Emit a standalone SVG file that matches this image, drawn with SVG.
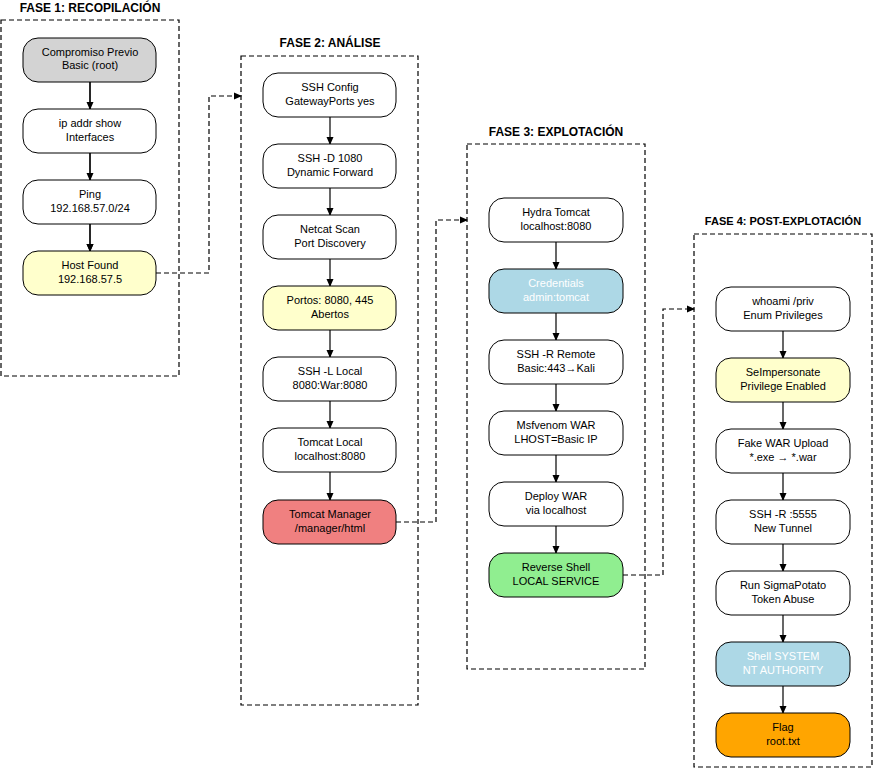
<svg xmlns="http://www.w3.org/2000/svg" width="873" height="768" viewBox="0 0 873 768">
<defs>
<marker id="a" markerWidth="8" markerHeight="8" refX="7" refY="4" orient="auto" markerUnits="userSpaceOnUse"><path d="M0,0.5 L8,4 L0,7.5 Z" fill="#000"/></marker>
<style>
text{font-family:"Liberation Sans",Arial,sans-serif;font-size:11px;text-anchor:middle;fill:#000}
.t{font-weight:bold;font-size:12px}
.c{fill:none;stroke:#000;stroke-width:1.2;stroke-dasharray:5,3}
.n{stroke:#000;stroke-width:1;fill:#fff}
.e{fill:none;stroke:#000;stroke-width:1.2}
.d{fill:none;stroke:#000;stroke-width:1.2;stroke-dasharray:5,3}
.w{fill:#fff}
</style>
</defs>
<rect width="873" height="768" fill="#fff"/>
<g id="clusters">
<rect class="c" x="1" y="20" width="178" height="356"/><text class="t" x="90" y="12">FASE 1: RECOPILACIÓN</text>
<rect class="c" x="241" y="56" width="177" height="649"/><text class="t" x="330" y="47">FASE 2: ANÁLISE</text>
<rect class="c" x="467" y="144" width="178" height="525"/><text class="t" x="556" y="136">FASE 3: EXPLOTACIÓN</text>
<rect class="c" x="694" y="234" width="178" height="533"/><text class="t" x="783" y="225" style="font-size:11px">FASE 4: POST-EXPLOTACIÓN</text>
</g>
<g id="connectors">
<path class="e" d="M90,82V109M90,153V180M90,224V251" marker-end="url(#a)"/>
<path class="e" d="M90,82V109" marker-end="url(#a)"/><path class="e" d="M90,153V180" marker-end="url(#a)"/><path class="e" d="M90,224V251" marker-end="url(#a)"/>
<path class="e" d="M330,117V144" marker-end="url(#a)"/><path class="e" d="M330,188V215" marker-end="url(#a)"/><path class="e" d="M330,259V286" marker-end="url(#a)"/><path class="e" d="M330,330V357" marker-end="url(#a)"/><path class="e" d="M330,401V428" marker-end="url(#a)"/><path class="e" d="M330,472V500" marker-end="url(#a)"/>
<path class="e" d="M556,242V269" marker-end="url(#a)"/><path class="e" d="M556,313V340" marker-end="url(#a)"/><path class="e" d="M556,384V411" marker-end="url(#a)"/><path class="e" d="M556,455V482" marker-end="url(#a)"/><path class="e" d="M556,526V553" marker-end="url(#a)"/>
<path class="e" d="M783,331V358" marker-end="url(#a)"/><path class="e" d="M783,402V429" marker-end="url(#a)"/><path class="e" d="M783,473V500" marker-end="url(#a)"/><path class="e" d="M783,544V571" marker-end="url(#a)"/><path class="e" d="M783,615V642" marker-end="url(#a)"/><path class="e" d="M783,686V713" marker-end="url(#a)"/>
<path class="d" d="M156,273H209V96H241" marker-end="url(#a)"/>
<path class="d" d="M396,522H436V220H467" marker-end="url(#a)"/>
<path class="d" d="M623,575H663V309H694" marker-end="url(#a)"/>
</g>
<g id="n1"><rect class="n" x="23" y="38" width="133" height="44" rx="15" style="fill:#d3d3d3"/><text x="90" y="56">Compromiso Previo</text><text x="90" y="69">Basic (root)</text></g>
<g id="n2"><rect class="n" x="23" y="109" width="133" height="44" rx="15"/><text x="90" y="127">ip addr show</text><text x="90" y="141">Interfaces</text></g>
<g id="n3"><rect class="n" x="23" y="180" width="133" height="44" rx="15"/><text x="90" y="198">Ping</text><text x="90" y="212">192.168.57.0/24</text></g>
<g id="n4"><rect class="n" x="23" y="251" width="133" height="44" rx="15" style="fill:#ffffcc"/><text x="90" y="269">Host Found</text><text x="90" y="283">192.168.57.5</text></g>
<g id="n5"><rect class="n" x="263" y="73" width="133" height="44" rx="15"/><text x="330" y="91">SSH Config</text><text x="330" y="105">GatewayPorts yes</text></g>
<g id="n6"><rect class="n" x="263" y="144" width="133" height="44" rx="15"/><text x="330" y="162">SSH -D 1080</text><text x="330" y="176">Dynamic Forward</text></g>
<g id="n7"><rect class="n" x="263" y="215" width="133" height="44" rx="15"/><text x="330" y="233">Netcat Scan</text><text x="330" y="247">Port Discovery</text></g>
<g id="n8"><rect class="n" x="263" y="286" width="133" height="44" rx="15" style="fill:#ffffcc"/><text x="330" y="304">Portos: 8080, 445</text><text x="330" y="318">Abertos</text></g>
<g id="n9"><rect class="n" x="263" y="357" width="133" height="44" rx="15"/><text x="330" y="375">SSH -L Local</text><text x="330" y="389">8080:War:8080</text></g>
<g id="n10"><rect class="n" x="263" y="428" width="133" height="44" rx="15"/><text x="330" y="446">Tomcat Local</text><text x="330" y="460">localhost:8080</text></g>
<g id="n11"><rect class="n" x="263" y="500" width="133" height="44" rx="15" style="fill:#f08080"/><text x="330" y="518">Tomcat Manager</text><text x="330" y="532">/manager/html</text></g>
<g id="n12"><rect class="n" x="489" y="198" width="134" height="44" rx="15"/><text x="556" y="216">Hydra Tomcat</text><text x="556" y="230">localhost:8080</text></g>
<g id="n13"><rect class="n" x="489" y="269" width="134" height="44" rx="15" style="fill:#add8e6"/><text class="w" x="556" y="287">Credentials</text><text class="w" x="556" y="301">admin:tomcat</text></g>
<g id="n14"><rect class="n" x="489" y="340" width="134" height="44" rx="15"/><text x="556" y="358">SSH -R Remote</text><text x="556" y="372">Basic:443→Kali</text></g>
<g id="n15"><rect class="n" x="489" y="411" width="134" height="44" rx="15"/><text x="556" y="429">Msfvenom WAR</text><text x="556" y="443">LHOST=Basic IP</text></g>
<g id="n16"><rect class="n" x="489" y="482" width="134" height="44" rx="15"/><text x="556" y="500">Deploy WAR</text><text x="556" y="514">via localhost</text></g>
<g id="n17"><rect class="n" x="489" y="553" width="134" height="44" rx="15" style="fill:#90ee90"/><text x="556" y="571">Reverse Shell</text><text x="556" y="585">LOCAL SERVICE</text></g>
<g id="n18"><rect class="n" x="716" y="287" width="134" height="44" rx="15"/><text x="783" y="305">whoami /priv</text><text x="783" y="319">Enum Privileges</text></g>
<g id="n19"><rect class="n" x="716" y="358" width="134" height="44" rx="15" style="fill:#ffffcc"/><text x="783" y="376">SeImpersonate</text><text x="783" y="390">Privilege Enabled</text></g>
<g id="n20"><rect class="n" x="716" y="429" width="134" height="44" rx="15"/><text x="783" y="447">Fake WAR Upload</text><text x="783" y="461">*.exe → *.war</text></g>
<g id="n21"><rect class="n" x="716" y="500" width="134" height="44" rx="15"/><text x="783" y="518">SSH -R :5555</text><text x="783" y="532">New Tunnel</text></g>
<g id="n22"><rect class="n" x="716" y="571" width="134" height="44" rx="15"/><text x="783" y="589">Run SigmaPotato</text><text x="783" y="603">Token Abuse</text></g>
<g id="n23"><rect class="n" x="716" y="642" width="134" height="44" rx="15" style="fill:#add8e6"/><text class="w" x="783" y="660">Shell SYSTEM</text><text class="w" x="783" y="674">NT AUTHORITY</text></g>
<g id="n24"><rect class="n" x="716" y="713" width="134" height="44" rx="15" style="fill:#ffa500"/><text x="783" y="731">Flag</text><text x="783" y="745">root.txt</text></g>
</svg>
